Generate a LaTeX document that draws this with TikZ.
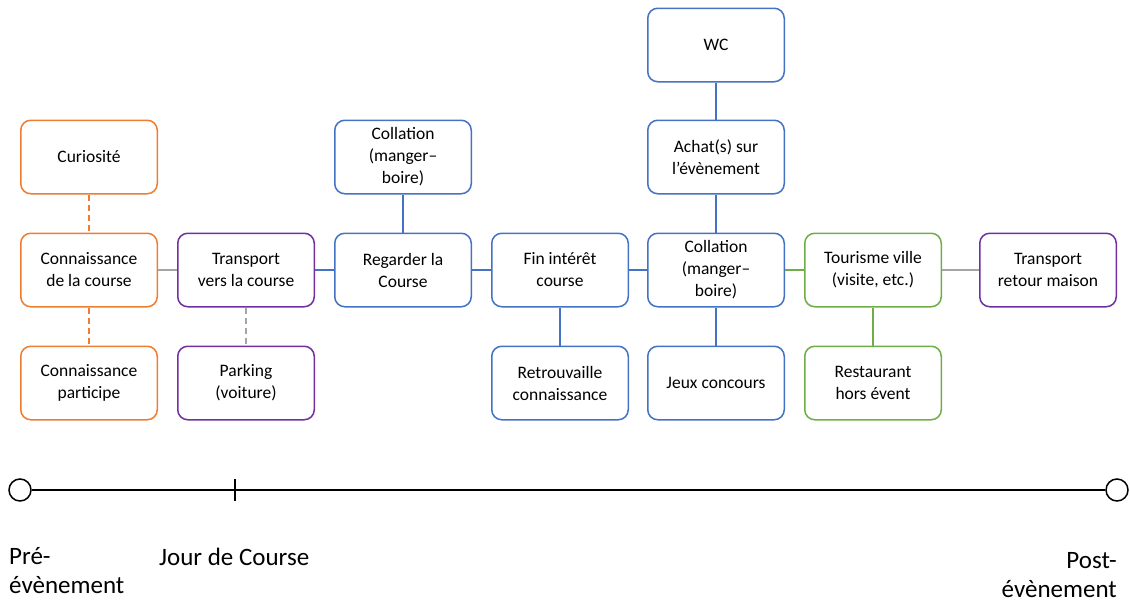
\documentclass[tikz,border=0pt]{standalone}
\usepackage{fontspec}
\setmainfont{Carlito}
\usepackage{xcolor}
\usetikzlibrary{positioning}

\definecolor{orangeO}{HTML}{ED7D31}
\definecolor{violetO}{HTML}{7030A0}
\definecolor{bleuO}{HTML}{4472C4}
\definecolor{vertO}{HTML}{70AD47}
\definecolor{grisO}{HTML}{A5A5A5}

\begin{document}
\begin{tikzpicture}[
    x=1pt, y=-1pt,
    font=\fontsize{17.5}{22}\selectfont,
    etape/.style={draw, line width=1.5pt, rounded corners=10pt, align=center,
                  minimum width=136.5pt, minimum height=73.5pt, inner sep=2pt, text=black},
    lien/.style={line width=1.5pt},
    pointille/.style={dash pattern=on 6pt off 4pt},
    jalon/.style={font=\fontsize{25}{29}\selectfont, inner sep=0pt},
    node distance=38pt and 19pt
  ]
    \useasboundingbox (0,0) rectangle (1130,605);
    % ligne principale
    \node[etape, draw=orangeO] at (89,270) (connais) {Connaissance\\de la course};
    \node[etape, draw=violetO, right=of connais] (transport) {Transport\\vers la course};
    \node[etape, draw=bleuO, right=of transport] (regarder) {Regarder la\\Course};
    \node[etape, draw=bleuO, right=of regarder] (fin) {Fin intérêt\\course};
    \node[etape, draw=bleuO, right=18pt of fin] (collation) {Collation\\(manger–\\boire)};
    \node[etape, draw=vertO, right=of collation] (tourisme) {Tourisme ville\\(visite, etc.)};
    \node[etape, draw=violetO, right=37pt of tourisme] (retour) {Transport\\retour maison};
    % au-dessus
    \node[etape, draw=orangeO, above=of connais] (curiosite) {Curiosité};
    \node[etape, draw=bleuO, above=of regarder] (collhaut) {Collation\\(manger–\\boire)};
    \node[etape, draw=bleuO, above=of collation] (achat) {Achat(s) sur\\l’évènement};
    \node[etape, draw=bleuO, above=37pt of achat] (wc) {WC};
    % en dessous
    \node[etape, draw=orangeO, below=of connais] (participe) {Connaissance\\participe};
    \node[etape, draw=violetO, below=of transport] (parking) {Parking\\(voiture)};
    \node[etape, draw=bleuO, below=of fin] (retrouv) {Retrouvaille\\connaissance};
    \node[etape, draw=bleuO, below=of collation] (jeux) {Jeux concours};
    \node[etape, draw=vertO, below=of tourisme] (resto) {Restaurant\\hors évent};
    % liens
    \draw[lien, orangeO, pointille] (curiosite) -- (connais);
    \draw[lien, orangeO, pointille] (connais) -- (participe);
    \draw[lien, grisO] (connais) -- (transport);
    \draw[lien, grisO, pointille] (transport) -- (parking);
    \draw[lien, bleuO] (transport) -- (regarder);
    \draw[lien, bleuO] (collhaut) -- (regarder);
    \draw[lien, bleuO] (regarder) -- (fin);
    \draw[lien, bleuO] (fin) -- (retrouv);
    \draw[lien, bleuO] (fin) -- (collation);
    \draw[lien, bleuO] (wc) -- (achat);
    \draw[lien, bleuO] (achat) -- (collation);
    \draw[lien, bleuO] (collation) -- (jeux);
    \draw[lien, vertO] (collation) -- (tourisme);
    \draw[lien, vertO, line width=2.5pt] (tourisme) -- (resto);
    \draw[lien, grisO] (tourisme) -- (retour);
    % frise temporelle
    \node[draw, circle, line width=1.5pt, minimum size=22pt, inner sep=0pt] (debut) at (20,490) {};
    \node[draw, circle, line width=1.5pt, minimum size=22pt, inner sep=0pt] (finfrise) at (1117,490) {};
    \coordinate (jour) at (235,490);
    \draw[line width=1.5pt] (debut) -- (finfrise);
    \draw[line width=2pt] ([yshift=-11pt]jour) -- ([yshift=11pt]jour);
    \node[jalon, anchor=north west, align=left] (pre) at (9,547) {Pré-\\évènement};
    \node[jalon, anchor=north west] (jourlbl) at (159,548) {Jour de Course};
    \node[jalon, anchor=north east, align=right] (post) at (1117,552) {Post-\\évènement};
\end{tikzpicture}
\end{document}
